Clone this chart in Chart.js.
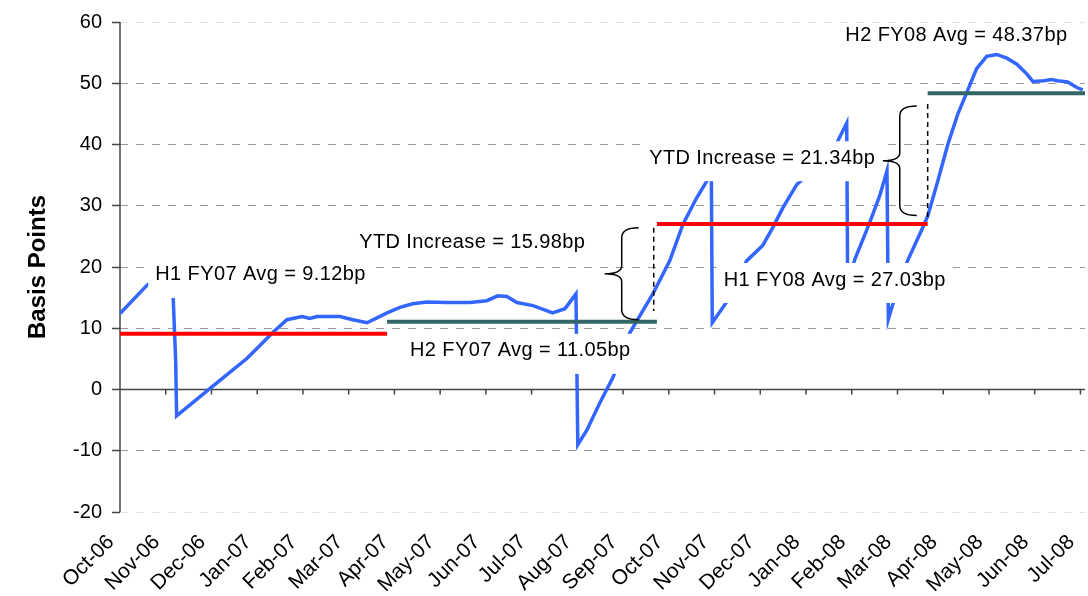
<!DOCTYPE html>
<html>
<head>
<meta charset="utf-8">
<script src="https://cdn.jsdelivr.net/npm/chart.js@4.4.1/dist/chart.umd.min.js"></script>
<style>
  html, body { margin: 0; padding: 0; background: #fff; }
</style>
</head>
<body>
<canvas id="spreadChart" width="1088" height="596"></canvas>
<script>
const monthLabels = ['Oct-06', 'Nov-06', 'Dec-06', 'Jan-07', 'Feb-07', 'Mar-07', 'Apr-07', 'May-07',
  'Jun-07', 'Jul-07', 'Aug-07', 'Sep-07', 'Oct-07', 'Nov-07', 'Dec-07', 'Jan-08', 'Feb-08',
  'Mar-08', 'Apr-08', 'May-08', 'Jun-08', 'Jul-08'];

// position on the axis, in months after Oct-06
const spreadMonth = [0, 0.59, 1.14, 1.165, 1.217, 1.238, 1.53, 1.97, 2.40, 2.78, 3.06, 3.34, 3.65,
  3.98, 4.15, 4.31, 4.81, 5.09, 5.40, 5.62, 5.84, 6.12, 6.40, 6.71, 7.15, 7.65, 8.02, 8.26, 8.46,
  8.68, 9.03, 9.46, 9.73, 9.97, 10.01, 10.21, 10.49, 10.78, 11.15, 11.65, 12.02, 12.31, 12.61,
  12.83, 12.93, 12.95, 13.33, 13.70, 14.05, 14.27, 14.49, 14.80, 14.91, 15.30, 15.67, 15.89,
  15.91, 16.07, 16.39, 16.61, 16.77, 16.80, 16.94, 17.22, 17.55, 17.66, 17.88, 18.10, 18.32,
  18.51, 18.73, 18.95, 19.17, 19.39, 19.61, 19.83, 19.96, 20.20, 20.37, 20.50, 20.72, 20.92, 21.05];
// spread in basis points
const spreadBp = [12.4, 17.0, 20.0, 14.6, 4.8, -4.3, -2.5, 0.2, 2.8, 5.1, 7.2, 9.3, 11.4,
  11.9, 11.6, 11.9, 11.9, 11.4, 10.9, 11.7, 12.5, 13.4, 14.0, 14.3, 14.2, 14.2, 14.5, 15.3, 15.2,
  14.2, 13.7, 12.5, 13.2, 15.6, -9.0, -6.6, -2.2, 2.0, 9.3, 15.6, 21.0, 27.0, 31.3,
  34.0, 35.4, 10.9, 15.0, 21.0, 23.5, 26.4, 29.6, 33.5, 34.2, 37.3, 40.2, 43.5,
  17.5, 21.3, 27.2, 31.6, 35.7, 11.5, 15.0, 21.0, 26.4, 28.3, 34.0, 40.0, 45.0,
  48.4, 52.4, 54.4, 54.7, 54.1, 53.1, 51.5, 50.3, 50.4, 50.6, 50.4, 50.2, 49.3, 48.9];

// half-year averages
const avgFrom = [0, 5.84, 11.74, 17.66];
const avgTo = [5.84, 11.74, 17.66, 21.1];
const avgBp = [9.12, 11.05, 27.03, 48.37];
const avgColors = ['#ff0000', '#336666', '#ff0000', '#336666'];

const yTicks = [-20, -10, 0, 10, 20, 30, 40, 50, 60];

// text notes: label, month, value (left edge / middle of the text)
const noteText = ['H1 FY07 Avg = 9.12bp', 'YTD Increase = 15.98bp', 'H2 FY07 Avg = 11.05bp',
  'YTD Increase = 21.34bp', 'H1 FY08 Avg = 27.03bp', 'H2 FY08 Avg = 48.37bp'];
const noteMonth = [0.77, 5.23, 6.34, 11.57, 13.20, 15.86];
const noteBp = [18.7, 23.96, 6.31, 37.76, 17.88, 57.76];
const noteOpaque = [true, true, true, true, true, false];

// YTD braces: stem month, low / high value; dashed marker month, low / high
const braceMonth = [10.97, 17.05];
const braceLow = [11.4, 28.4];
const braceHigh = [26.4, 46.3];
const markMonth = [11.67, 17.66];
const markLow = [12.8, 28.1];
const markHigh = [26.4, 46.6];

const FONT = '"Liberation Sans", Arial, sans-serif';

const datasets = avgBp.map((v, i) => ({
  data: [{x: avgFrom[i], y: v}, {x: avgTo[i], y: v}],
  borderColor: avgColors[i],
  borderWidth: 4,
  pointRadius: 0,
  order: 0
}));
datasets.push({
  data: spreadMonth.map((m, i) => ({x: m, y: spreadBp[i]})),
  borderColor: '#3366ff',
  borderWidth: 3.5,
  pointRadius: 0,
  tension: 0,
  order: 1
});

const axisPlugin = {
  id: 'axisLines',
  beforeDatasetsDraw(chart) {
    const {ctx, chartArea, scales: {x, y}} = chart;
    ctx.save();
    ctx.strokeStyle = '#444';
    ctx.lineWidth = 1.5;
    ctx.beginPath();
    ctx.moveTo(chartArea.left, chartArea.top);
    ctx.lineTo(chartArea.left, chartArea.bottom);
    const y0 = y.getPixelForValue(0);
    ctx.moveTo(chartArea.left, y0);
    ctx.lineTo(chartArea.right, y0);
    monthLabels.forEach((_, i) => {
      const px = x.getPixelForValue(i);
      ctx.moveTo(px, y0);
      ctx.lineTo(px, y0 + 5);
    });
    ctx.stroke();
    ctx.restore();
  },
  afterDatasetsDraw(chart) {
    const {ctx, chartArea, scales: {x, y}} = chart;
    ctx.save();
    ctx.font = '20px ' + FONT;
    ctx.letterSpacing = '0.4px';
    ctx.textBaseline = 'middle';
    noteText.forEach((t, i) => {
      const px = x.getPixelForValue(noteMonth[i]);
      const py = y.getPixelForValue(noteBp[i]);
      const w = ctx.measureText(t).width;
      if (noteOpaque[i]) {
        const top = Math.max(py - 17, chartArea.top + 1);
        ctx.fillStyle = '#fff';
        ctx.fillRect(px - 7, top, w + 14, py + 23 - top);
      }
      ctx.fillStyle = '#000';
      ctx.fillText(t, px, py);
    });

    ctx.strokeStyle = '#000';
    ctx.lineWidth = 1.5;
    braceMonth.forEach((m, i) => {
      const sx = x.getPixelForValue(m);
      const yt = y.getPixelForValue(braceHigh[i]);
      const yb = y.getPixelForValue(braceLow[i]);
      const ym = (yt + yb) / 2;
      ctx.beginPath();
      ctx.moveTo(sx + 17, yt);
      ctx.quadraticCurveTo(sx, yt, sx, yt + 10);
      ctx.lineTo(sx, ym - 8);
      ctx.quadraticCurveTo(sx, ym, sx - 17, ym);
      ctx.quadraticCurveTo(sx, ym, sx, ym + 8);
      ctx.lineTo(sx, yb - 10);
      ctx.quadraticCurveTo(sx, yb, sx + 17, yb);
      ctx.stroke();
    });

    ctx.setLineDash([5, 4]);
    markMonth.forEach((m, i) => {
      const mx = x.getPixelForValue(m);
      ctx.beginPath();
      ctx.moveTo(mx, y.getPixelForValue(markHigh[i]));
      ctx.lineTo(mx, y.getPixelForValue(markLow[i]));
      ctx.stroke();
    });
    ctx.restore();
  }
};

new Chart(document.getElementById('spreadChart'), {
  type: 'line',
  data: {datasets},
  options: {
    responsive: false,
    animation: false,
    layout: {padding: {top: 21, right: 3, left: 0, bottom: 0}},
    plugins: {legend: {display: false}, tooltip: {enabled: false}},
    scales: {
      x: {
        type: 'linear',
        min: 0,
        max: 21.1,
        grid: {display: false, drawTicks: false},
        border: {display: false},
        afterBuildTicks: s => { s.ticks = monthLabels.map((_, i) => ({value: i})); },
        afterFit: s => { s.height = 84; s.paddingLeft = 0; s.paddingRight = 0; },
        ticks: {
          autoSkip: false,
          minRotation: 45,
          maxRotation: 45,
          padding: 18,
          labelOffset: -9,
          color: '#000',
          font: {family: FONT, size: 21},
          callback: v => monthLabels[v]
        }
      },
      y: {
        min: -20,
        max: 60,
        afterBuildTicks: s => { s.ticks = yTicks.map(v => ({value: v})); },
        afterFit: s => { s.width = 120; },
        grid: {
          // the outer edges of the plot are drawn lighter
          color: c => (c.tick && (c.tick.value === 60 || c.tick.value === -20)) ? '#e2e2e2' : '#9a9a9a',
          lineWidth: 1, drawTicks: true, tickLength: 8, tickColor: '#444', tickWidth: 1.5
        },
        border: {display: false, dash: [8, 8]},
        ticks: {color: '#000', padding: 10, font: {family: FONT, size: 20}},
        title: {
          display: true,
          text: 'Basis Points',
          color: '#000',
          font: {family: FONT, size: 24, weight: 'bold'},
          padding: {top: 24, bottom: 0}
        }
      }
    }
  },
  plugins: [axisPlugin]
});
</script>
</body>
</html>
